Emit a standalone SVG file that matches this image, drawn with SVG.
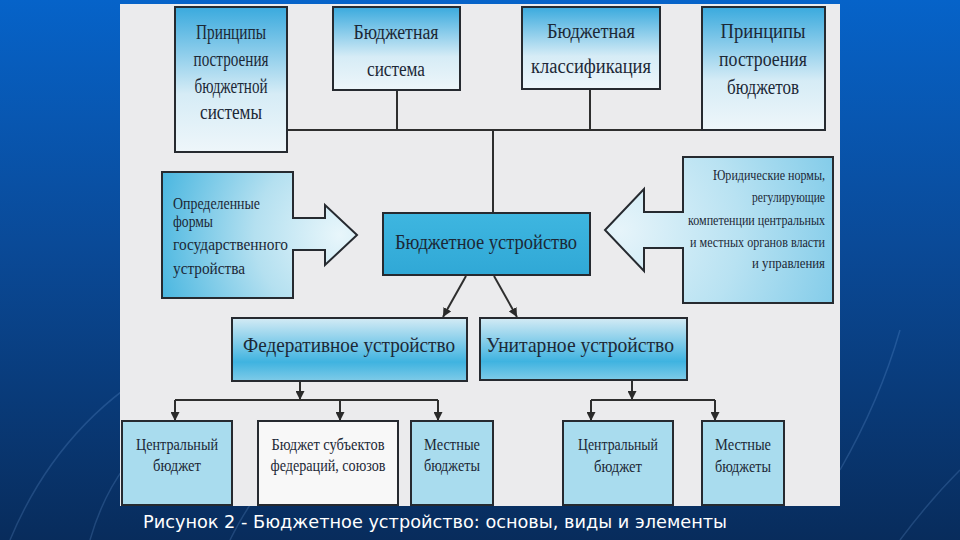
<svg xmlns="http://www.w3.org/2000/svg" width="960" height="540" viewBox="0 0 960 540">
  <defs>
    <linearGradient id="bg" x1="0" y1="0" x2="0" y2="1">
      <stop offset="0" stop-color="#0663c9"/>
      <stop offset="0.45" stop-color="#0a4a98"/>
      <stop offset="1" stop-color="#082c5c"/>
    </linearGradient>
    <linearGradient id="gTop" x1="0" y1="0" x2="0" y2="1">
      <stop offset="0" stop-color="#3aaade"/>
      <stop offset="0.6" stop-color="#d6ecf6"/>
      <stop offset="1" stop-color="#eef6fa"/>
    </linearGradient>
    <linearGradient id="gMid" x1="0" y1="0" x2="0" y2="1">
      <stop offset="0" stop-color="#d4ebf5"/>
      <stop offset="0.7" stop-color="#3fb3e0"/>
      <stop offset="1" stop-color="#7fcbe8"/>
    </linearGradient>
    <linearGradient id="gCore" x1="0" y1="0" x2="0" y2="1">
      <stop offset="0" stop-color="#3eb6e0"/>
      <stop offset="1" stop-color="#30a8d6"/>
    </linearGradient>
    <radialGradient id="gLeft" gradientUnits="userSpaceOnUse" cx="340" cy="235" r="190">
      <stop offset="0" stop-color="#e8f6fb"/>
      <stop offset="0.45" stop-color="#b4e0f0"/>
      <stop offset="1" stop-color="#48b6e0"/>
    </radialGradient>
    <radialGradient id="gRight" gradientUnits="userSpaceOnUse" cx="620" cy="230" r="240">
      <stop offset="0" stop-color="#e6f4fa"/>
      <stop offset="0.5" stop-color="#b8e2f2"/>
      <stop offset="1" stop-color="#7cc9e8"/>
    </radialGradient>
    <marker id="ah" viewBox="0 0 10 10" refX="10" refY="5" markerWidth="9" markerHeight="9" markerUnits="userSpaceOnUse" orient="auto">
      <path d="M0,0 L10,5 L0,10 Z" fill="#2a2a2a"/>
    </marker>
    <style>
      .box { stroke: #262a30; stroke-width: 2; }
      .t { font-family: "Liberation Serif", "DejaVu Serif", serif; fill: #1c2836; }
      .c { text-anchor: middle; }
      .r { text-anchor: end; }
      .ln { stroke: #2e2e2e; stroke-width: 2; fill: none; }
      .deco { stroke: #8fc0ff; stroke-opacity: 0.18; stroke-width: 1.5; fill: none; }
    </style>
  </defs>

  <!-- slide background -->
  <rect x="0" y="0" width="960" height="540" fill="url(#bg)"/>
  <g id="decor">
    <path class="deco" d="M 10 540 Q 60 420 170 360"/>
    <path class="deco" d="M 90 540 Q 110 470 160 430"/>
    <path class="deco" d="M 840 470 Q 880 400 900 330"/>
    <path class="deco" d="M 900 540 Q 930 500 960 470"/>
    <path class="deco" d="M 230 540 Q 240 520 250 505"/>
  </g>

  <!-- scanned page -->
  <rect x="120" y="4" width="720" height="502" fill="#ebebed"/>

  <!-- connectors -->
  <g id="connectors">
    <path class="ln" d="M 287 130 H 702"/>
    <path class="ln" d="M 397 90 V 130"/>
    <path class="ln" d="M 590 89 V 130"/>
    <path class="ln" d="M 493 130 V 213"/>
    <path class="ln" d="M 466 276 L 443 317" marker-end="url(#ah)"/>
    <path class="ln" d="M 494 276 L 517 317" marker-end="url(#ah)"/>
    <path class="ln" d="M 300 381 V 400" marker-end="url(#ah)"/>
    <path class="ln" d="M 175 400 H 438"/>
    <path class="ln" d="M 175 400 V 421" marker-end="url(#ah)"/>
    <path class="ln" d="M 340 400 V 421" marker-end="url(#ah)"/>
    <path class="ln" d="M 438 400 V 421" marker-end="url(#ah)"/>
    <path class="ln" d="M 632 380 V 400" marker-end="url(#ah)"/>
    <path class="ln" d="M 591 400 H 715"/>
    <path class="ln" d="M 591 400 V 421" marker-end="url(#ah)"/>
    <path class="ln" d="M 715 400 V 421" marker-end="url(#ah)"/>
  </g>

  <g id="principles-system">
    <rect class="box" x="175" y="7" width="112" height="145" fill="url(#gTop)"/>
    <text class="t c" font-size="20" x="231" y="39" textLength="70" lengthAdjust="spacingAndGlyphs">Принципы</text>
    <text class="t c" font-size="20" x="231" y="66" textLength="75" lengthAdjust="spacingAndGlyphs">построения</text>
    <text class="t c" font-size="20" x="231" y="93" textLength="73" lengthAdjust="spacingAndGlyphs">бюджетной</text>
    <text class="t c" font-size="20" x="231" y="119" textLength="62" lengthAdjust="spacingAndGlyphs">системы</text>
  </g>

  <g id="budget-system">
    <rect class="box" x="333" y="7" width="127" height="83" fill="url(#gTop)"/>
    <text class="t c" font-size="20" x="396" y="39" textLength="85" lengthAdjust="spacingAndGlyphs">Бюджетная</text>
    <text class="t c" font-size="20" x="396" y="76" textLength="58" lengthAdjust="spacingAndGlyphs">система</text>
  </g>

  <g id="budget-classification">
    <rect class="box" x="522" y="7" width="138" height="82" fill="url(#gTop)"/>
    <text class="t c" font-size="20" x="591" y="38" textLength="88" lengthAdjust="spacingAndGlyphs">Бюджетная</text>
    <text class="t c" font-size="20" x="591" y="73" textLength="120" lengthAdjust="spacingAndGlyphs">классификация</text>
  </g>

  <g id="principles-budgets">
    <rect class="box" x="702" y="7" width="123" height="123" fill="url(#gTop)"/>
    <text class="t c" font-size="20" x="763" y="38" textLength="85" lengthAdjust="spacingAndGlyphs">Принципы</text>
    <text class="t c" font-size="20" x="763" y="66" textLength="88" lengthAdjust="spacingAndGlyphs">построения</text>
    <text class="t c" font-size="20" x="763" y="94" textLength="72" lengthAdjust="spacingAndGlyphs">бюджетов</text>
  </g>

  <g id="state-forms">
    <path class="box" fill="url(#gLeft)" d="M 162 172 H 293 V 218 H 325 V 205 L 357 235 L 325 265 V 250 H 293 V 298 H 162 Z"/>
    <text class="t" font-size="16" x="173" y="209" textLength="87" lengthAdjust="spacingAndGlyphs">Определенные</text>
    <text class="t" font-size="16" x="173" y="227" textLength="40" lengthAdjust="spacingAndGlyphs">формы</text>
    <text class="t" font-size="16" x="173" y="250" textLength="115" lengthAdjust="spacingAndGlyphs">государственного</text>
    <text class="t" font-size="16" x="173" y="274" textLength="72" lengthAdjust="spacingAndGlyphs">устройства</text>
  </g>

  <g id="legal-norms">
    <path class="box" fill="url(#gRight)" d="M 833 157 H 683 V 212 H 644 V 189 L 605 230 L 644 271 V 248 H 683 V 303 H 833 Z"/>
    <text class="t r" font-size="14" x="825" y="180" textLength="112" lengthAdjust="spacingAndGlyphs">Юридические нормы,</text>
    <text class="t r" font-size="14" x="825" y="202" textLength="73" lengthAdjust="spacingAndGlyphs">регулирующие</text>
    <text class="t r" font-size="14" x="825" y="225" textLength="137" lengthAdjust="spacingAndGlyphs">компетенции центральных</text>
    <text class="t r" font-size="14" x="825" y="247" textLength="135" lengthAdjust="spacingAndGlyphs">и местных органов власти</text>
    <text class="t r" font-size="14" x="825" y="268" textLength="73" lengthAdjust="spacingAndGlyphs">и управления</text>
  </g>

  <g id="budget-structure">
    <rect class="box" x="383" y="213" width="207" height="62" fill="url(#gCore)"/>
    <text class="t c" font-size="20" x="486" y="249" textLength="182" lengthAdjust="spacingAndGlyphs">Бюджетное устройство</text>
  </g>

  <g id="federal">
    <rect class="box" x="232" y="318" width="235" height="63" fill="url(#gMid)"/>
    <text class="t c" font-size="21" x="349" y="352" textLength="212" lengthAdjust="spacingAndGlyphs">Федеративное  устройство</text>
  </g>

  <g id="unitary">
    <rect class="box" x="480" y="318" width="207" height="62" fill="url(#gMid)"/>
    <text class="t c" font-size="21" x="580" y="352" textLength="188" lengthAdjust="spacingAndGlyphs">Унитарное  устройство</text>
  </g>

  <g id="fed-central">
    <rect class="box" x="122" y="421" width="110" height="84" fill="#a9dcee"/>
    <text class="t c" font-size="17" x="177" y="450" textLength="82" lengthAdjust="spacingAndGlyphs">Центральный</text>
    <text class="t c" font-size="17" x="177" y="471" textLength="48" lengthAdjust="spacingAndGlyphs">бюджет</text>
  </g>

  <g id="fed-subjects">
    <rect class="box" x="258" y="421" width="140" height="84" fill="#f8f8f8"/>
    <text class="t c" font-size="17" x="328" y="450" textLength="113" lengthAdjust="spacingAndGlyphs">Бюджет субъектов</text>
    <text class="t c" font-size="17" x="328" y="471" textLength="115" lengthAdjust="spacingAndGlyphs">федераций, союзов</text>
  </g>

  <g id="fed-local">
    <rect class="box" x="411" y="421" width="82" height="84" fill="#a9dcee"/>
    <text class="t c" font-size="17" x="452" y="450" textLength="56" lengthAdjust="spacingAndGlyphs">Местные</text>
    <text class="t c" font-size="17" x="452" y="471" textLength="56" lengthAdjust="spacingAndGlyphs">бюджеты</text>
  </g>

  <g id="uni-central">
    <rect class="box" x="563" y="421" width="110" height="84" fill="#a9dcee"/>
    <text class="t c" font-size="17" x="618" y="450" textLength="80" lengthAdjust="spacingAndGlyphs">Центральный</text>
    <text class="t c" font-size="17" x="618" y="472" textLength="48" lengthAdjust="spacingAndGlyphs">бюджет</text>
  </g>

  <g id="uni-local">
    <rect class="box" x="702" y="421" width="82" height="84" fill="#a9dcee"/>
    <text class="t c" font-size="17" x="743" y="450" textLength="56" lengthAdjust="spacingAndGlyphs">Местные</text>
    <text class="t c" font-size="17" x="743" y="472" textLength="56" lengthAdjust="spacingAndGlyphs">бюджеты</text>
  </g>

  <text x="143" y="528" font-family="'DejaVu Sans', 'Noto Sans', sans-serif" font-size="17" fill="#ffffff" textLength="584" lengthAdjust="spacingAndGlyphs">Рисунок 2 - Бюджетное устройство: основы, виды и элементы</text>
</svg>
